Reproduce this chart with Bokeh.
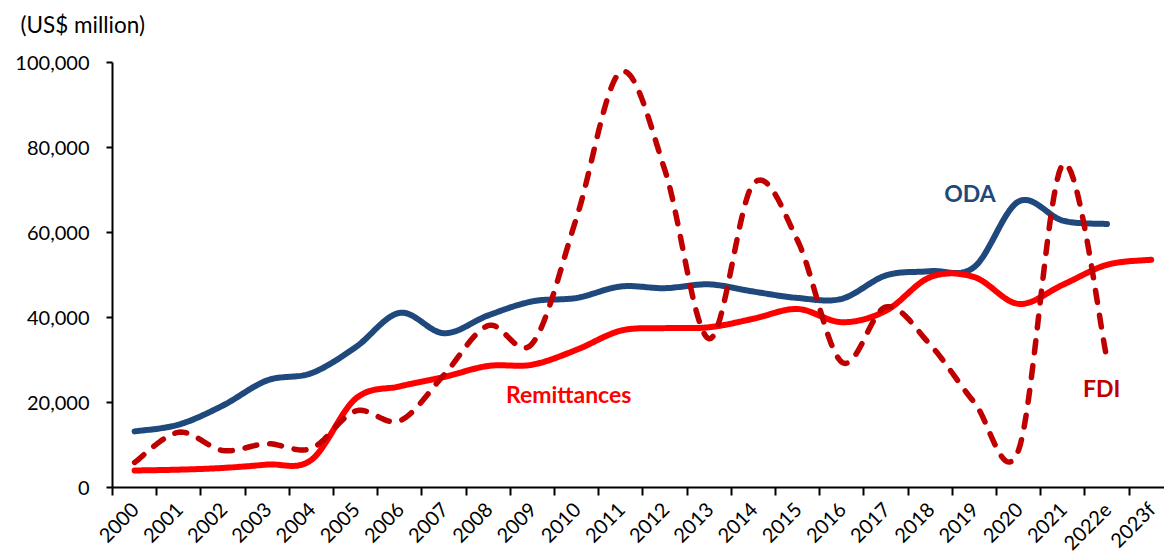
import math
import numpy as np
from bokeh.plotting import figure
from bokeh.models import Range1d, FixedTicker, NumeralTickFormatter, Label
from bokeh.embed import file_html
from bokeh.resources import INLINE

years = ["2000", "2001", "2002", "2003", "2004", "2005", "2006", "2007", "2008", "2009",
         "2010", "2011", "2012", "2013", "2014", "2015", "2016", "2017", "2018", "2019",
         "2020", "2021", "2022e", "2023f"]
oda = [13200, 14800, 19300, 25200, 26900, 33000, 41100, 36300, 40500, 43800,
       44600, 47300, 46900, 47800, 46100, 44600, 44400, 49900, 50900, 51900,
       67300, 62800, 62000]
remittances = [4000, 4200, 4600, 5400, 6500, 20900, 23800, 26000, 28600, 28900,
               32400, 36900, 37500, 37700, 39700, 42000, 38900, 41600, 49500, 49500,
               43200, 47700, 52400, 53600]
fdi = [5900, 13000, 8700, 10300, 9200, 18000, 15700, 26500, 38100, 33900,
       63500, 97800, 74600, 35000, 71500, 58100, 29500, 42500, 33600, 20000,
       8800, 76000, 30300]
y_ticks = [0, 20000, 40000, 60000, 80000, 100000]
unit_title = "(US$ million)"
series_labels = ["ODA", "Remittances", "FDI"]
series_colors = ["#1F497D", "#FF0000", "#C00000"]
label_x = [19.4, 10.32, 22.38]
label_y = [69200, 21900, 23300]

FONT = "Lato"


def smooth(xs, ys, n=24):
    """Excel-style smoothed line (Catmull-Rom cubic Bezier through points)."""
    xs = np.asarray(xs, float)
    ys = np.asarray(ys, float)
    m = len(xs)
    ox, oy = [], []
    for i in range(m - 1):
        p0 = i - 1 if i > 0 else i
        p3 = i + 2 if i + 2 < m else i + 1
        x1, y1 = xs[i], ys[i]
        x2, y2 = xs[i + 1], ys[i + 1]
        c1x = x1 + (x2 - xs[p0]) / 6.0
        c1y = y1 + (y2 - ys[p0]) / 6.0
        c2x = x2 - (xs[p3] - x1) / 6.0
        c2y = y2 - (ys[p3] - y1) / 6.0
        t = np.linspace(0, 1, n, endpoint=(i == m - 2))
        a = (1 - t) ** 3
        b = 3 * (1 - t) ** 2 * t
        c = 3 * (1 - t) * t ** 2
        d = t ** 3
        ox.extend(a * x1 + b * c1x + c * c2x + d * x2)
        oy.extend(a * y1 + b * c1y + c * c2y + d * y2)
    return ox, oy


centers = [i + 0.5 for i in range(len(years))]
boundaries = list(range(len(years) + 1))

# page geometry (pixels); the plot frame covers the whole canvas and both
# axes are pinned at data 0 so that nothing of them gets clipped
W, H = 1164, 554
AXIS_X_PX = 112          # pixel column of the y axis
ZERO_PX = 487            # pixel row of y = 0
TOP_PX = 62              # pixel row of y = 100,000
CAT_PX = 44.2            # width of one category
y_top = 100000
per_px = y_top / (ZERO_PX - TOP_PX)
x_start = -AXIS_X_PX / CAT_PX
x_end = (W - AXIS_X_PX) / CAT_PX
y_start = -(H - ZERO_PX) * per_px
y_end = ZERO_PX * per_px

p = figure(width=W, height=H, output_backend="svg", toolbar_location=None,
           title=None,
           x_range=Range1d(x_start, x_end), y_range=Range1d(y_start, y_end),
           min_border=0, min_border_left=0, min_border_right=0,
           min_border_top=0, min_border_bottom=0)
p.outline_line_color = None
p.grid.grid_line_color = None
p.background_fill_color = "white"
p.border_fill_color = "white"

# unit note at top left
p.add_layout(Label(x=x_start + 20 / CAT_PX, y=y_end - 24 * per_px, text=unit_title,
                   text_font=FONT, text_font_size="22.5px", text_color="black",
                   text_align="left", text_baseline="middle"))

# x axis drawn at y = 0: labels at category centres, ticks at boundaries
xa = p.xaxis[0]
xa.fixed_location = 0
xa.bounds = (0, x_end)
xa.ticker = FixedTicker(ticks=centers, minor_ticks=boundaries)
xa.major_label_overrides = {c: y for c, y in zip(centers, years)}
xa.major_tick_out = 0
xa.major_tick_in = 0
xa.minor_tick_out = 8
xa.minor_tick_in = 0
xa.minor_tick_line_color = "black"
xa.minor_tick_line_width = 2
xa.axis_line_color = "black"
xa.axis_line_width = 2
xa.major_label_orientation = math.pi / 4
xa.major_label_standoff = 10
xa.major_label_text_font = FONT
xa.major_label_text_font_size = "20px"
xa.major_label_text_color = "black"

# y axis drawn at x = 0
ya = p.yaxis[0]
ya.fixed_location = 0
ya.bounds = (0, y_top)
ya.ticker = FixedTicker(ticks=y_ticks)
ya.formatter = NumeralTickFormatter(format="0,0")
ya.major_tick_out = 6
ya.major_tick_in = 0
ya.minor_tick_out = 0
ya.minor_tick_in = 0
ya.major_tick_line_width = 2
ya.axis_line_width = 2
ya.axis_line_color = "black"
ya.major_label_standoff = 17
ya.major_label_text_font = FONT
ya.major_label_text_font_size = "20px"
ya.major_label_text_color = "black"

# lines
ox, oy = smooth(centers[:len(oda)], oda)
p.line(ox, oy, line_color=series_colors[0], line_width=6, line_cap="round", line_join="round")
rx, ry = smooth(centers[:len(remittances)], remittances)
p.line(rx, ry, line_color=series_colors[1], line_width=6, line_cap="round", line_join="round")
fx, fy = smooth(centers[:len(fdi)], fdi)
p.line(fx, fy, line_color=series_colors[2], line_width=5.5, line_cap="round",
       line_join="round", line_dash="12 13")

for txt, col, lx, ly in zip(series_labels, series_colors, label_x, label_y):
    p.add_layout(Label(x=lx, y=ly, text=txt, text_color=col, text_font=FONT,
                       text_font_size="23px", text_font_style="bold",
                       text_align="center", text_baseline="middle"))

open("out.html", "w").write(file_html(p, INLINE))
